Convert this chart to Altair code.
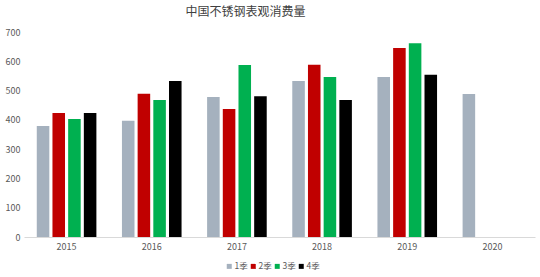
import altair as alt
import pandas as pd

years = ["2015", "2016", "2017", "2018", "2019", "2020"]
quarters = ["1季", "2季", "3季", "4季"]
q1 = [379, 397, 478, 533, 546, 488]
q2 = [423, 489, 437, 588, 645, None]
q3 = [403, 468, 587, 546, 662, None]
q4 = [423, 533, 481, 468, 554, None]
colors = ["#A5B1BE", "#C00000", "#00B050", "#000000"]

rows = []
for qi, series in enumerate([q1, q2, q3, q4]):
    for y, v in zip(years, series):
        if v is not None:
            rows.append({"year": y, "quarter": quarters[qi], "value": v})
df = pd.DataFrame(rows)

font = "Noto Sans CJK SC"

chart = alt.Chart(df).mark_bar().encode(
    x=alt.X("year:N", sort=years, title=None,
            scale=alt.Scale(domain=years, paddingInner=0.3, paddingOuter=0.15),
            axis=alt.Axis(labelAngle=0, ticks=False, domainColor="#D9D9D9",
                          labelColor="#595959", labelFontSize=9, labelFont=font,
                          labelPadding=5)),
    xOffset=alt.XOffset("quarter:N", sort=quarters,
                        scale=alt.Scale(domain=quarters, paddingInner=0.2, paddingOuter=0)),
    y=alt.Y("value:Q", title=None,
            scale=alt.Scale(domain=[0, 700]),
            axis=alt.Axis(values=[0, 100, 200, 300, 400, 500, 600, 700], grid=False,
                          domain=False, ticks=False, labelColor="#595959",
                          labelFontSize=9, labelFont=font, labelPadding=4)),
    color=alt.Color("quarter:N", sort=quarters,
                    scale=alt.Scale(domain=quarters, range=colors),
                    legend=alt.Legend(title=None, orient="none", direction="horizontal",
                                      legendX=201, legendY=230,
                                      symbolType="square", symbolSize=25,
                                      symbolStrokeWidth=0,
                                      labelFontSize=8.5, labelFont=font, labelColor="#595959",
                                      columnPadding=1, labelOffset=1)),
).properties(
    width=511,
    height=205,
    title=alt.TitleParams("中国不锈钢表观消费量", fontSize=12, font=font, fontWeight="normal",
                          color="#404040", anchor="middle", dx=-34, offset=9),
    autosize=alt.AutoSizeParams(type="none"),
    padding={"left": 24, "top": 32, "right": 5, "bottom": 40},
).configure_view(stroke=None)

chart.save("out.html", embed_options={"renderer": "svg", "actions": False})
